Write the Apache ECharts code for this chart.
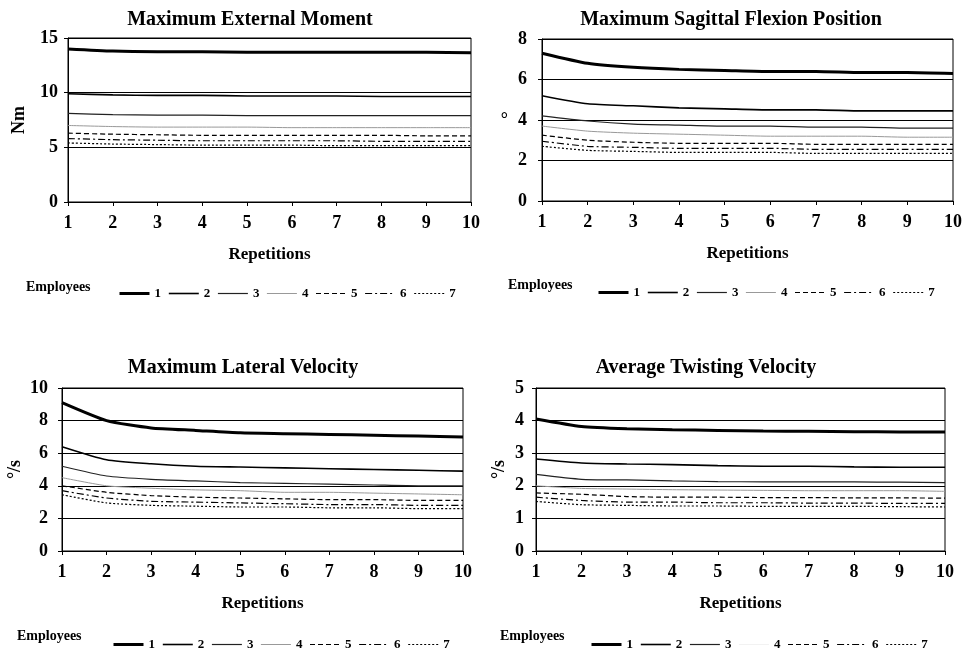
<!DOCTYPE html>
<html>
<head>
<meta charset="utf-8">
<script src="https://cdn.jsdelivr.net/npm/echarts@6/dist/echarts.min.js"></script>
<style>html,body{margin:0;padding:0;background:#fff}#c{width:973px;height:650px}</style>
</head>
<body>
<div id="c"></div>
<script>
const reps = ['1','2','3','4','5','6','7','8','9','10'];
const employees = ['1','2','3','4','5','6','7'];

const titles = ['Maximum External Moment','Maximum Sagittal Flexion Position','Maximum Lateral Velocity','Average Twisting Velocity'];
const yNames = ['Nm','°','°/s','°/s'];
const yMax = [15, 8, 10, 5];
const yStep = [5, 2, 2, 1];

// Maximum External Moment (Nm)
const moment1 = [14.0, 13.8, 13.75, 13.75, 13.7, 13.7, 13.7, 13.7, 13.7, 13.65];
const moment2 = [9.9, 9.8, 9.75, 9.75, 9.7, 9.7, 9.7, 9.65, 9.65, 9.65];
const moment3 = [8.1, 8.0, 7.95, 7.95, 7.9, 7.9, 7.9, 7.9, 7.9, 7.9];
const moment4 = [7.0, 6.9, 6.85, 6.85, 6.85, 6.8, 6.8, 6.8, 6.8, 6.8];
const moment5 = [6.3, 6.2, 6.15, 6.1, 6.1, 6.1, 6.1, 6.1, 6.05, 6.05];
const moment6 = [5.8, 5.7, 5.65, 5.6, 5.6, 5.6, 5.6, 5.55, 5.55, 5.55];
const moment7 = [5.4, 5.3, 5.25, 5.2, 5.2, 5.2, 5.15, 5.15, 5.15, 5.15];

// Maximum Sagittal Flexion Position (°)
const flexion1 = [7.3, 6.8, 6.6, 6.5, 6.45, 6.4, 6.4, 6.35, 6.35, 6.3];
const flexion2 = [5.2, 4.8, 4.7, 4.6, 4.55, 4.5, 4.5, 4.45, 4.45, 4.45];
const flexion3 = [4.2, 3.95, 3.8, 3.75, 3.7, 3.7, 3.65, 3.65, 3.6, 3.6];
const flexion4 = [3.7, 3.45, 3.35, 3.3, 3.25, 3.2, 3.2, 3.2, 3.15, 3.15];
const flexion5 = [3.25, 3.0, 2.9, 2.85, 2.85, 2.85, 2.8, 2.8, 2.8, 2.8];
const flexion6 = [2.95, 2.7, 2.65, 2.6, 2.6, 2.6, 2.55, 2.55, 2.55, 2.55];
const flexion7 = [2.7, 2.5, 2.45, 2.4, 2.4, 2.4, 2.35, 2.35, 2.35, 2.35];

// Maximum Lateral Velocity (°/s)
const lateral1 = [9.1, 8.0, 7.55, 7.4, 7.25, 7.2, 7.15, 7.1, 7.05, 7.0];
const lateral2 = [6.4, 5.6, 5.35, 5.2, 5.15, 5.1, 5.05, 5.0, 4.95, 4.9];
const lateral3 = [5.2, 4.6, 4.4, 4.3, 4.2, 4.15, 4.1, 4.05, 4.0, 4.0];
const lateral4 = [4.5, 4.0, 3.85, 3.75, 3.7, 3.6, 3.6, 3.55, 3.5, 3.45];
const lateral5 = [4.0, 3.6, 3.4, 3.3, 3.25, 3.2, 3.15, 3.15, 3.1, 3.1];
const lateral6 = [3.7, 3.25, 3.05, 3.0, 2.95, 2.9, 2.85, 2.85, 2.8, 2.8];
const lateral7 = [3.45, 2.95, 2.8, 2.75, 2.7, 2.7, 2.65, 2.65, 2.6, 2.6];

// Average Twisting Velocity (°/s)
const twist1 = [4.05, 3.82, 3.75, 3.72, 3.7, 3.68, 3.67, 3.66, 3.65, 3.65];
const twist2 = [2.82, 2.7, 2.67, 2.65, 2.62, 2.6, 2.6, 2.58, 2.57, 2.57];
const twist3 = [2.35, 2.2, 2.18, 2.15, 2.13, 2.12, 2.12, 2.12, 2.11, 2.1];
const twist4 = [2.0, 1.92, 1.9, 1.88, 1.87, 1.86, 1.85, 1.85, 1.85, 1.83];
const twist5 = [1.78, 1.74, 1.67, 1.65, 1.65, 1.64, 1.64, 1.63, 1.63, 1.62];
const twist6 = [1.65, 1.55, 1.5, 1.5, 1.48, 1.48, 1.47, 1.47, 1.46, 1.46];
const twist7 = [1.52, 1.42, 1.4, 1.38, 1.38, 1.37, 1.37, 1.37, 1.36, 1.35];

const chartData = [
  [moment1, moment2, moment3, moment4, moment5, moment6, moment7],
  [flexion1, flexion2, flexion3, flexion4, flexion5, flexion6, flexion7],
  [lateral1, lateral2, lateral3, lateral4, lateral5, lateral6, lateral7],
  [twist1, twist2, twist3, twist4, twist5, twist6, twist7]
];

const FONT = '"Liberation Serif", "Times New Roman", serif';
const lineWidths = [3, 1.6, 1.2, 1, 1.2, 1.2, 1.2];
const lineTypes = ['solid', 'solid', 'solid', 'solid', [5, 3], [7, 3, 2, 3], [2, 2]];
const lineColors = ['#000', '#000', '#222', '#999', '#000', '#000', '#000'];

const grids = [
  {left: 68, top: 38, width: 403, height: 164},
  {left: 542, top: 39, width: 411, height: 162},
  {left: 62, top: 388, width: 401, height: 163},
  {left: 536, top: 388, width: 409, height: 163}
];
const labelMargins = [10, 15, 14, 12];
const nameGaps = [40, 34, 38, 28];
const titlePos = [[250, 10], [731, 10], [243, 358], [706, 358]];
const employeesPos = [[26, 280], [508, 278], [17, 629], [500, 629]];
const legendPos = [[118, 287], [597, 286], [112, 638], [590, 638]];

const option = {
  backgroundColor: '#fff',
  animation: false,
  title: [],
  grid: [],
  xAxis: [],
  yAxis: [],
  legend: [],
  series: []
};

for (let c = 0; c < 4; c++) {
  option.title.push({
    text: titles[c], left: titlePos[c][0], top: titlePos[c][1], textAlign: 'center', padding: 0,
    textStyle: {fontFamily: FONT, fontWeight: 'bold', fontSize: 20, color: '#000'}
  });
  option.title.push({
    text: 'Employees', left: employeesPos[c][0], top: employeesPos[c][1], padding: 0,
    textStyle: {fontFamily: FONT, fontWeight: 'bold', fontSize: 14, color: '#000'}
  });
  option.grid.push(Object.assign({show: true, borderColor: '#000', borderWidth: 1, containLabel: false}, grids[c]));
  option.xAxis.push({
    type: 'category', gridIndex: c, data: reps, boundaryGap: false,
    name: 'Repetitions', nameLocation: 'middle', nameGap: 44,
    nameTextStyle: {fontFamily: FONT, fontWeight: 'bold', fontSize: 17, color: '#000'},
    axisLine: {lineStyle: {color: '#000', width: 1}},
    axisTick: {show: true, length: 4, lineStyle: {color: '#000'}},
    axisLabel: {fontFamily: FONT, fontWeight: 'bold', fontSize: 18, color: '#000', margin: 12, interval: 0},
    splitLine: {show: false}
  });
  const rot = (c === 1) ? 0 : 90;
  option.yAxis.push({
    type: 'value', gridIndex: c, min: 0, max: yMax[c], interval: yStep[c],
    name: yNames[c], nameLocation: 'middle', nameGap: nameGaps[c], nameRotate: rot,
    nameTextStyle: {fontFamily: FONT, fontWeight: 'bold', fontSize: 18, color: '#000'},
    axisLine: {show: true, lineStyle: {color: '#000', width: 1}},
    axisTick: {show: true, length: 4, lineStyle: {color: '#000'}},
    axisLabel: {fontFamily: FONT, fontWeight: 'bold', fontSize: 18, color: '#000', margin: labelMargins[c]},
    splitLine: {show: true, lineStyle: {color: '#000', width: 1}}
  });
  const names = employees.map(e => c + '-' + e);
  option.legend.push({
    data: names.map((n, k) => ({
      name: n,
      lineStyle: {
        color: (c === 3 && k === 3) ? '#f2f2f2' : lineColors[k],
        width: lineWidths[k], type: lineTypes[k]
      }
    })),
    left: legendPos[c][0], top: legendPos[c][1], padding: 0,
    orient: 'horizontal', itemWidth: 30, itemHeight: 10, itemGap: 7,
    selectedMode: false,
    itemStyle: {opacity: 0, color: 'transparent', borderWidth: 0},
    formatter: n => n.split('-')[1],
    textStyle: {fontFamily: FONT, fontWeight: 'bold', fontSize: 13, color: '#000'}
  });
  chartData[c].forEach((vals, k) => {
    option.series.push({
      type: 'line', name: names[k], xAxisIndex: c, yAxisIndex: c,
      data: vals, symbol: 'none', showSymbol: false, smooth: 0.2,
      lineStyle: {color: lineColors[k], width: lineWidths[k], type: lineTypes[k]},
      itemStyle: {color: lineColors[k]},
      z: 10 - k
    });
  });
}

const chart = echarts.init(document.getElementById('c'), null, {renderer: 'canvas'});
chart.setOption(option);
</script>
</body>
</html>
